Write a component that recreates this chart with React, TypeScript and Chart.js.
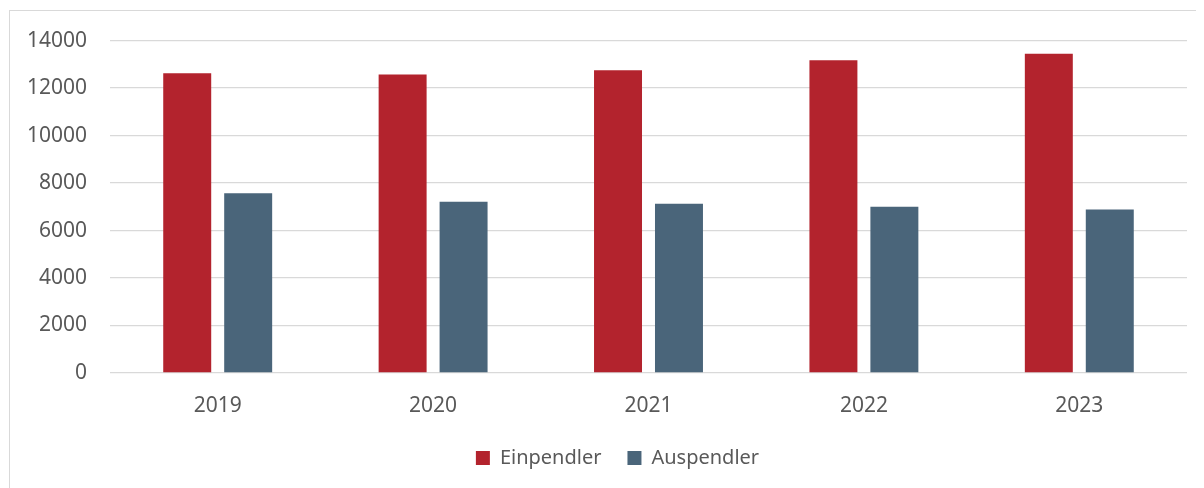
import React, { useEffect, useRef } from "react";
import { Chart, registerables } from "chart.js";

Chart.register(...registerables);

const years = ["2019", "2020", "2021", "2022", "2023"];
const einpendler = [12620, 12570, 12750, 13170, 13450];
const auspendler = [7570, 7210, 7125, 7000, 6890];
const seriesNames = ["Einpendler", "Auspendler"];
const seriesColors = ["#B3232D", "#4A657A"];

const shiftLegend = {
  id: "shiftLegend",
  afterLayout(chart: any) {
    const l = chart.legend;
    if (l) {
      l.left += 19;
      l.right += 19;
    }
  },
};

export default function App() {
  const ref = useRef<HTMLCanvasElement | null>(null);
  useEffect(() => {
    if (!ref.current) return;
    const font = { family: "'Noto Sans', sans-serif", size: 21 };
    const legendFont = { family: "'Noto Sans', sans-serif", size: 20 };
    const chart = new Chart(ref.current, {
      type: "bar",
      data: {
        labels: years,
        datasets: [
          {
            label: seriesNames[0],
            data: einpendler,
            backgroundColor: seriesColors[0],
            barPercentage: 0.787,
            categoryPercentage: 0.566,
          },
          {
            label: seriesNames[1],
            data: auspendler,
            backgroundColor: seriesColors[1],
            barPercentage: 0.787,
            categoryPercentage: 0.566,
          },
        ],
      },
      plugins: [shiftLegend],
      options: {
        animation: false,
        responsive: true,
        maintainAspectRatio: false,
        layout: { padding: { top: 18, right: 17, bottom: 10, left: 0 } },
        plugins: {
          tooltip: { enabled: false },
          legend: {
            position: "bottom",
            labels: {
              font: legendFont,
              color: "#595959",
              boxWidth: 14,
              boxHeight: 14,
              padding: 26,
            },
          },
        },
        scales: {
          x: {
            grid: { display: false },
            border: { display: false },
            ticks: { font, color: "#595959", padding: 12 },
            afterFit: (s: any) => {
              s.height = 49;
            },
          },
          y: {
            min: 0,
            max: 14000,
            ticks: {
              stepSize: 2000,
              font,
              color: "#595959",
              padding: 23,
              callback: (v: any) => String(v),
            },
            grid: { color: "#d9d9d9", lineWidth: 1.3, drawTicks: false },
            border: { display: false },
            afterFit: (s: any) => {
              s.width = 100;
            },
          },
        },
      },
    });
    return () => chart.destroy();
  }, []);
  return (
    <div
      style={{
        marginTop: 2,
        marginLeft: 1,
        borderTop: "1px solid #d9d9d9",
        borderLeft: "1px solid #d9d9d9",
        width: 1194,
        height: 477,
        position: "relative",
      }}
    >
      <div
        style={{
          position: "absolute",
          left: 0,
          top: -6,
          width: 1194,
          height: 483,
        }}
      >
        <canvas ref={ref} />
      </div>
    </div>
  );
}
